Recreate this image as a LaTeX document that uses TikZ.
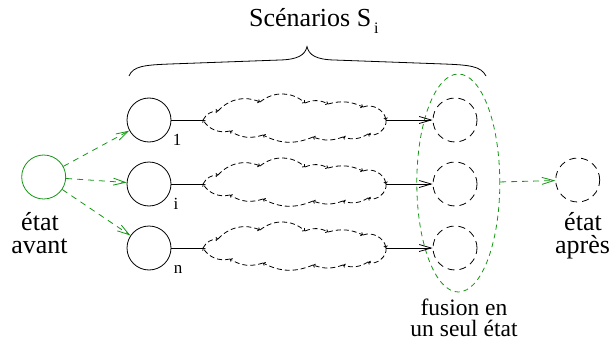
\documentclass[tikz,border=0pt]{standalone}
\usepackage{fontspec}
\setmainfont{Liberation Serif}
\usetikzlibrary{arrows.meta,shapes.geometric}
\definecolor{vert}{RGB}{20,150,20}
\begin{document}
\begin{tikzpicture}[x=1pt,y=-1pt,
  trait/.style={line width=0.8pt},
  etat/.style={circle,draw,trait,minimum size=44pt,inner sep=0pt},
  etatpointille/.style={etat,dash pattern=on 7pt off 5pt},
  fleche/.style={trait,-{Straight Barb[length=12pt,width=7pt]}},
  flechevert/.style={fleche,draw=vert,dash pattern=on 6pt off 5pt},
  nuagetrait/.style={trait,dash pattern=on 5pt off 3pt,-{Straight Barb[length=1.6pt,width=3.6pt]}},
  texte/.style={inner sep=0pt,anchor=base,font=\fontsize{26}{26}\selectfont},
  textefusion/.style={inner sep=0pt,anchor=base,font=\fontsize{23.5}{23.5}\selectfont},
  indice/.style={inner sep=0pt,anchor=base,font=\fontsize{17}{17}\selectfont},
  pics/nuage/.style={code={
    \foreach \ax/\ay/\bx/\by/\bd in {0/0/15/-9/30, 15/-9/57/-18/35, 57/-18/102/-17/40,
        102/-17/125/-16/25, 125/-16/160/-13/20, 160/-13/183/0/50, 183/0/165/14/60,
        165/14/140/17/25, 140/17/110/17/20, 110/17/60/15/25, 60/15/27/11/25, 27/11/0/0/35}
      \draw[nuagetrait] (\ax,\ay) to[bend left=\bd] (\bx,\by);
  }}
]
\useasboundingbox (0,0) rectangle (613,345);

% title and brace
\node[inner sep=0pt,anchor=base west,font=\fontsize{26}{26}\selectfont] (titre) at (249,26.7)
  {Scénarios S\hspace{3pt}\raisebox{-6.5pt}{\fontsize{16}{16}\selectfont i}};
\draw[trait] (129,76) .. controls (133,66) and (145,65) .. (170,64) -- (280,60)
  .. controls (298,59.5) and (305,55) .. (307,46.7)
  .. controls (309,55) and (316,59.5) .. (334,60) -- (444,64)
  .. controls (469,65) and (481,66) .. (486,76);

% initial state
\node[etat,draw=vert] (avant) at (43.7,177) {};
\node[texte] (lavant1) at (40,230) {état};
\node[texte] (lavant2) at (39.5,253.3) {avant};

% scenario start states
\node[etat] (s1) at (149,120) {};
\node[etat] (si) at (149,184) {};
\node[etat] (sn) at (149,248) {};
\node[indice] (n1) at (177,145) {1};
\node[indice] (ni) at (176,209) {i};
\node[indice] (nn) at (178,273) {n};

% scenario clouds
\foreach \r/\y in {1/120,i/184,n/248}{
  \pic at (203,\y) {nuage};
  \coordinate (g\r) at (203,\y);
  \coordinate (d\r) at (386,\y);
}

% end states of each scenario
\node[etatpointille] (f1) at (455,120) {};
\node[etatpointille] (fi) at (455,184) {};
\node[etatpointille] (fn) at (455,248) {};
\node[ellipse,draw=vert,trait,dash pattern=on 5pt off 4pt,minimum width=83pt,
  minimum height=218pt,inner sep=0pt] (fusion) at (458.3,183) {};
\node[textefusion] (lfusion1) at (464,315) {fusion en};
\node[textefusion] (lfusion2) at (464,336.7) {un seul état};

% final state
\node[etatpointille] (apres) at (577.7,180) {};
\node[texte] (lapres1) at (583,230) {état};
\node[texte] (lapres2) at (582.5,253.3) {après};

% connectors
\foreach \r in {1,i,n}{
  \draw[flechevert] (avant) -- (s\r);
  \draw[trait] (s\r) -- (g\r);
  \draw[fleche] (d\r) -- (f\r);
}
\draw[flechevert] (fusion) -- (apres);
\end{tikzpicture}
\end{document}
